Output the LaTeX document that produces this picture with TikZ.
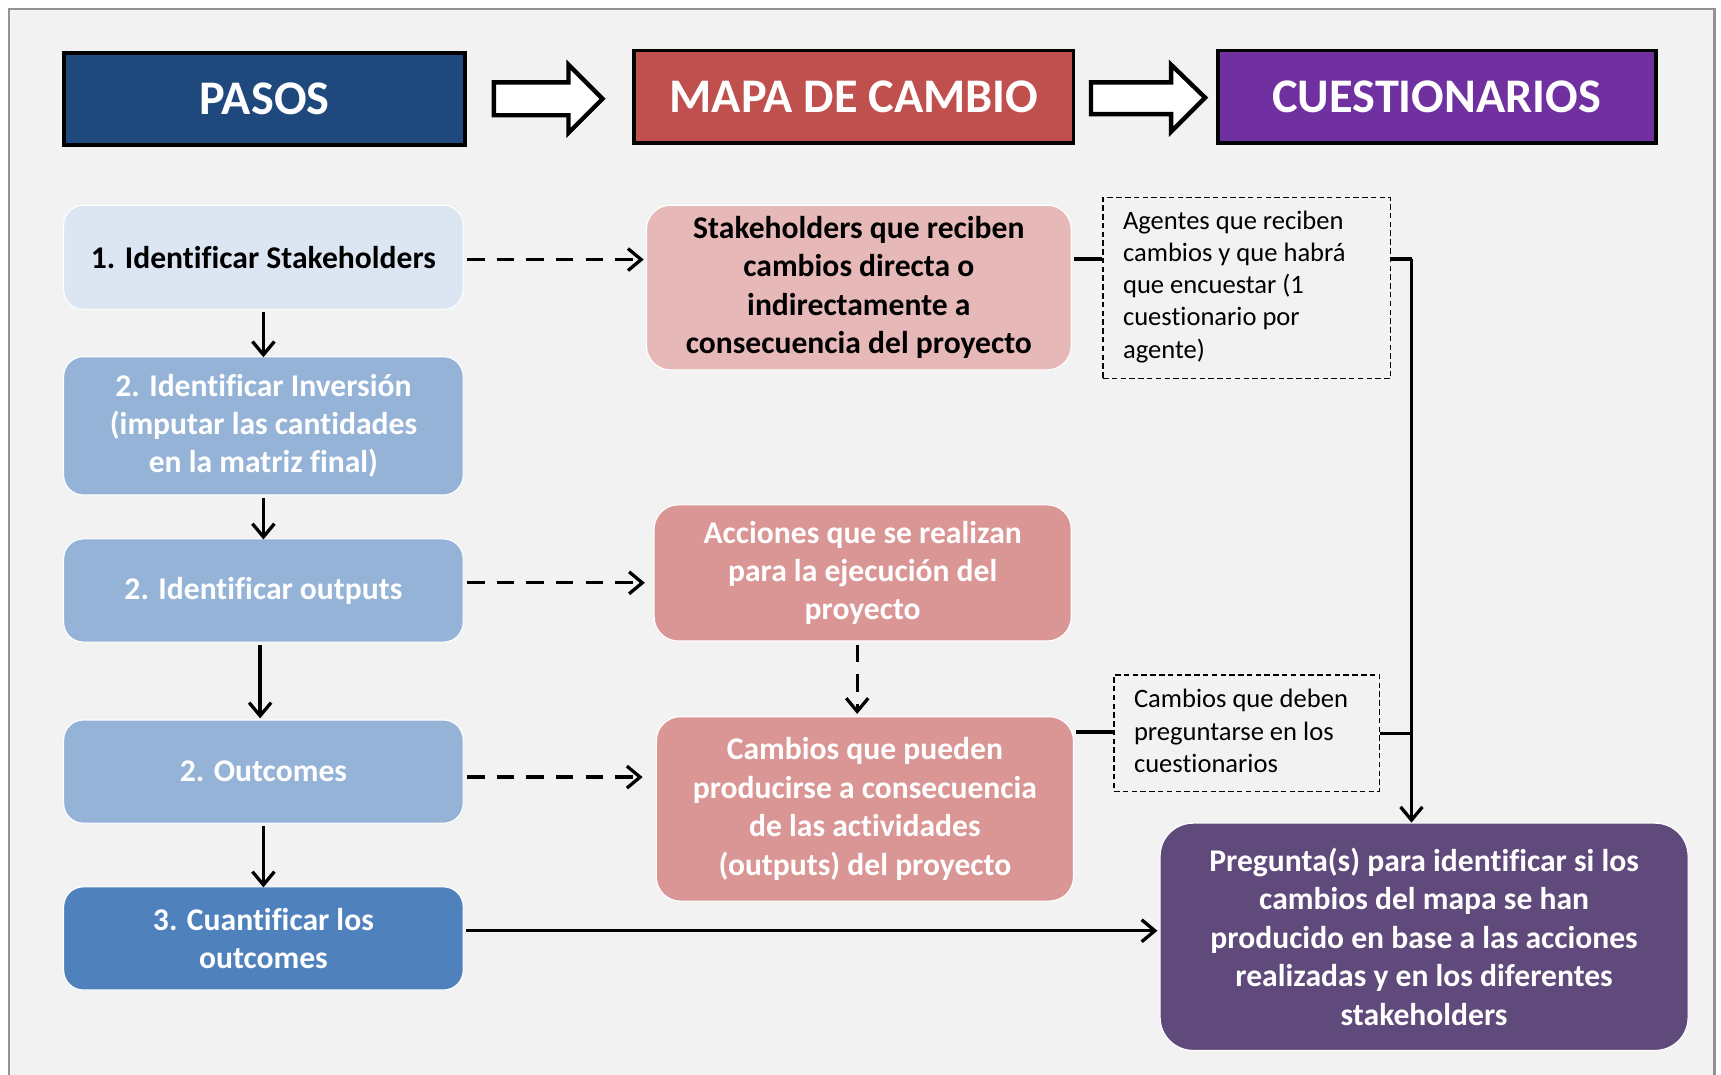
\documentclass[tikz,border=0pt]{standalone}
\usepackage{fontspec}
\setmainfont{Carlito}[Ligatures=NoCommon]
\usetikzlibrary{arrows.meta}
\definecolor{bgc}{HTML}{F2F2F2}
\definecolor{pasosc}{HTML}{1F497D}
\definecolor{mapac}{HTML}{C0504D}
\definecolor{cuestc}{HTML}{7030A0}
\definecolor{lightbl}{HTML}{DCE6F2}
\definecolor{midbl}{HTML}{95B3D7}
\definecolor{darkbl}{HTML}{4F81BD}
\definecolor{lightrd}{HTML}{E6B9B8}
\definecolor{midrd}{HTML}{D99694}
\definecolor{purpq}{HTML}{604A7B}
\tikzset{
  header/.style={draw=black, line width=3.5pt, text=white, font=\fontsize{44}{48}\selectfont\bfseries, inner sep=0pt},
  stepbox/.style={rounded corners=18pt, draw=white, line width=1pt, font=\fontsize{28.8}{35}\selectfont\bfseries, align=center, inner sep=0pt},
  mapbox/.style={rounded corners=22pt, draw=white, line width=1pt, font=\fontsize{28.8}{35}\selectfont\bfseries, align=center, inner sep=0pt},
  notebox/.style={draw=black, line width=1.3pt, dash pattern=on 5pt off 3pt, inner sep=0pt},
  notetext/.style={font=\fontsize{24.2}{29.3}\selectfont, align=left, anchor=north west, inner sep=0pt},
  blockarrow/.style={draw=black, fill=white, line width=4pt, line join=miter},
  flow/.style={line width=3pt, -{Straight Barb[length=12pt, width=20pt, line width=3pt]}},
  dflow/.style={flow, dash pattern=on 16pt off 11pt},
  link/.style={line width=3pt},
}
\begin{document}
\begin{tikzpicture}[x=1pt, y=-1pt]
\useasboundingbox (0,0) rectangle (1568,979);
\fill[white] (0,0) rectangle (1568,979);
\draw[fill=bgc, draw=gray!85, line width=2pt] (8,8) rectangle (1562,1000);

% headers
\node[header, fill=pasosc, minimum width=365pt, minimum height=84pt] (hp) at (241,90) {PASOS};
\node[header, fill=mapac, minimum width=400pt, minimum height=84pt] (hm) at (778,88) {MAPA DE CAMBIO};
\node[header, fill=cuestc, minimum width=399pt, minimum height=84pt] (hc) at (1309,88) {CUESTIONARIOS};
\draw[blockarrow] (450,75) -- (518,75) -- (518,59) -- (549,90) -- (518,121) -- (518,105) -- (450,105) -- cycle;
\draw[blockarrow] (994,75) -- (1067,75) -- (1067,59) -- (1098,89) -- (1067,120) -- (1067,104) -- (994,104) -- cycle;

% steps
\node[stepbox, fill=lightbl, text=black, minimum width=364pt, minimum height=95pt] (s1) at (240,234.5) {1. Identificar Stakeholders};
\node[stepbox, fill=midbl, text=white, minimum width=364pt, minimum height=126pt] (s2) at (240,388) {2. Identificar Inversión\\(imputar las cantidades\\en la matriz final)};
\node[stepbox, fill=midbl, text=white, minimum width=364pt, minimum height=94pt] (s3) at (240,538) {2. Identificar outputs};
\node[stepbox, fill=midbl, text=white, minimum width=364pt, minimum height=94pt] (s4) at (240,703) {2. Outcomes};
\node[stepbox, fill=darkbl, text=white, minimum width=364pt, minimum height=94pt] (s5) at (240,855) {3. Cuantificar los\\outcomes};

% map boxes
\node[mapbox, fill=lightrd, text=black, minimum width=387pt, minimum height=150pt] (m1) at (782.5,262) {Stakeholders que reciben\\cambios directa o\\indirectamente a\\consecuencia del proyecto};
\node[mapbox, fill=midrd, text=white, minimum width=380pt, minimum height=124pt] (m2) at (786,522) {Acciones que se realizan\\para la ejecución del\\proyecto};
\node[mapbox, fill=midrd, text=white, minimum width=380pt, minimum height=168pt] (m3) at (788,737) {Cambios que pueden\\producirse a consecuencia\\de las actividades\\(outputs) del proyecto};

% notes
\node[notebox, minimum width=262pt, minimum height=165pt] (n1) at (1136,262.5) {};
\node[notetext] (n1t) at (1023,192) {Agentes que reciben\\cambios y que habrá\\que encuestar (1\\cuestionario por\\agente)};
\node[notebox, minimum width=242pt, minimum height=106pt] (n2) at (1136,668) {};
\node[notetext] (n2t) at (1033,628) {Cambios que deben\\preguntarse en los\\cuestionarios};

% question box
\node[rounded corners=30pt, draw=white, line width=1pt, fill=purpq, text=white, font=\fontsize{28.8}{35}\selectfont\bfseries, align=center, inner sep=0pt, minimum width=481pt, minimum height=207pt] (q) at (1297.5,853.5) {Pregunta(s) para identificar si los\\cambios del mapa se han\\producido en base a las acciones\\realizadas y en los diferentes\\stakeholders};

% step arrows
\draw[flow] (s1.south) ++(0,2) -- ([yshift=-1pt]s2.north);
\draw[flow] (s2.south) ++(0,2) -- ([yshift=-1pt]s3.north);
\draw[flow] ([xshift=-3pt,yshift=-2pt]s3.south) -- ([xshift=-3pt,yshift=1pt]s4.north);
\draw[flow] (s4.south) ++(0,2) -- ([yshift=-1pt]s5.north);

% dashed arrows
\draw[dflow] ([xshift=3pt,yshift=-2pt]s1.east) -- ([xshift=-2pt,yshift=-2pt]m1.west |- s1.east);
\draw[dflow] ([xshift=3pt,yshift=7pt]s3.east) -- ([xshift=-8pt,yshift=7pt]m2.west |- s3.east);
\draw[dflow] ([xshift=3pt,yshift=-5pt]s4.east) -- ([xshift=-12pt,yshift=-5pt]m3.west |- s4.east);
\draw[dflow] ([xshift=-5pt,yshift=-3pt]m2.south) -- ([xshift=-7pt,yshift=2pt]m3.north);

% links
\coordinate (vx) at (1286,236);
\draw[link] ([xshift=2pt]m1.east |- vx) -- (n1.west |- vx);
\draw[link] (n1.east |- vx) -- (vx);
\draw[flow] (vx) -- (vx |- q.north);
\draw[link] ([xshift=2pt]m3.east |- 0,667) -- (n2.west |- 0,667);
\draw[link] (n2.east |- 0,668) -- (vx |- 0,668);
\draw[flow] ([xshift=2pt]s5.east |- 0,848) -- ([xshift=-2pt]q.west |- 0,848);
\end{tikzpicture}
\end{document}
